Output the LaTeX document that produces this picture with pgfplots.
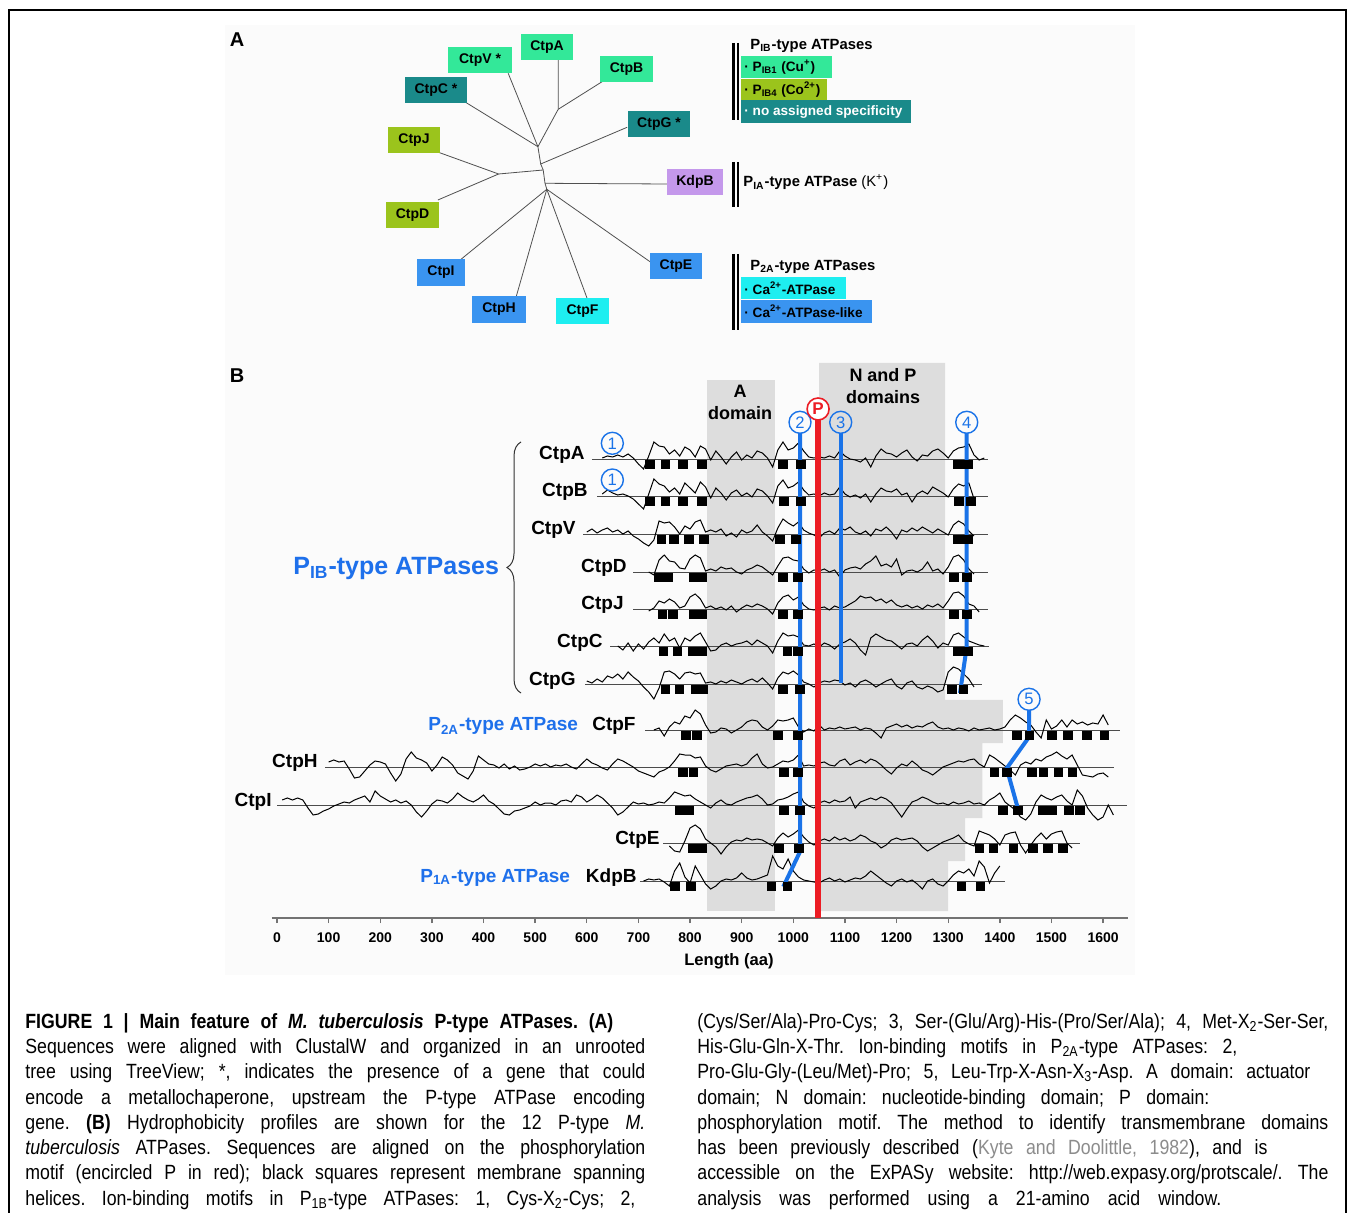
\documentclass[border=0pt]{standalone}
\usepackage{pgfplots}
\pgfplotsset{compat=1.18}
\usepackage{fontspec}
\setmainfont{Liberation Sans}
\newfontfamily\capfont[FakeStretch=0.86]{Liberation Sans}
\usetikzlibrary{decorations.pathreplacing}
\definecolor{mint}{RGB}{51,232,153}
\definecolor{teal2}{RGB}{26,138,138}
\definecolor{olive2}{RGB}{155,196,28}
\definecolor{lav}{RGB}{196,152,235}
\definecolor{blu}{RGB}{58,148,240}
\definecolor{cyn}{RGB}{30,238,240}
\definecolor{tblue}{RGB}{30,112,235}
\definecolor{lblue}{RGB}{26,115,232}
\definecolor{pred}{RGB}{236,28,36}
\definecolor{boxgray}{RGB}{221,221,221}
\definecolor{treegray}{RGB}{80,80,80}
\newcommand{\fsz}[1]{\fontsize{#1}{#1}\selectfont}
\newcommand{\tbox}[6]{\fill[#5] (#1,#2) rectangle (#3,#4);
  \node[font=\bfseries\fsz{7}, inner sep=0] at ({(#1+#3)/2},{(#2+#4)/2}) {#6};}
\newcommand{\capl}[4]{\node[anchor=base west, inner sep=0, font=\capfont\fsz{10.3}\frenchspacing] at (#1,#2) {\makebox[#3][s]{#4}};}
\pgfplotsset{prof/.style={black, line width=0.5pt}, base/.style={black!70, line width=0.45pt},
  tm/.style={only marks, mark=square*, mark size=2.1pt, black}}
\begin{document}
\frenchspacing
\begin{tikzpicture}
\begin{scope}[x=0.5pt,y=-0.5pt]
\useasboundingbox (0,0) rectangle (1355,1213);
\fill[white] (0,0) rectangle (1355,1213);
\fill[black!1.5] (225,25) rectangle (1135,975);
\draw[black, line width=0.6pt] (9,1213) -- (9,10) -- (1346,10) -- (1346,1213);
% panel A
\node[font=\bfseries\fsz{10}] at (237,40) {A};
\begin{scope}[treegray, line width=0.4pt]
\draw (537.9,146.7) -- (508.2,73.3);
\draw (537.9,146.7) -- (558.2,109.3) -- (558.2,60);
\draw (558.2,109.3) -- (602.1,81.7);
\draw (537.9,146.7) -- (464.6,101.7);
\draw (537.9,146.7) -- (540.7,164) -- (627.1,127.3);
\draw (540.7,164) -- (543.2,170) -- (545,183.3);
\draw (543.2,170) -- (498.6,174);
\draw (498.6,174) -- (439.6,152.7);
\draw (498.6,174) -- (437.9,200);
\draw (545,183.3) -- (667,184);
\draw (545,183.3) -- (546.8,189.3);
\draw (546.8,189.3) -- (461,259.3);
\draw (546.8,189.3) -- (516.4,296);
\draw (546.8,189.3) -- (587.1,298.3);
\draw (546.8,189.3) -- (650.4,262);
\end{scope}
\tbox{448}{47}{512}{73}{mint}{CtpV *}
\tbox{521}{34}{573}{60}{mint}{CtpA}
\tbox{600}{56}{653}{82}{mint}{CtpB}
\tbox{405}{77}{467}{103}{teal2}{CtpC *}
\tbox{628}{111}{690}{137}{teal2}{CtpG *}
\tbox{388}{127}{440}{153}{olive2}{CtpJ}
\tbox{667}{169}{723}{195}{lav}{KdpB}
\tbox{386}{202}{439}{228}{olive2}{CtpD}
\tbox{417}{259}{465}{286}{blu}{CtpI}
\tbox{650}{253}{702}{279}{blu}{CtpE}
\tbox{472}{296}{526}{323}{blu}{CtpH}
\tbox{556}{298}{609}{324}{cyn}{CtpF}
% legend bars
\foreach \a/\b in {43/120,162/207,254/330}{
  \draw[black, line width=1.2pt] (733.5,\a) -- (733.5,\b);
  \draw[black, line width=1.2pt] (737.8,\a) -- (737.8,\b);}
\node[anchor=west, inner sep=0, font=\bfseries\fsz{7.4}] at (750,46) {P\textsubscript{IB}-type ATPases};
\fill[mint] (741,56) rectangle (832,78);
\fill[olive2] (741,79) rectangle (827,100);
\fill[teal2] (741,100) rectangle (911,123);
\node[anchor=west, inner sep=0, font=\bfseries\fsz{6.8}] at (744,67.5) {· P\textsubscript{IB1} (Cu\textsuperscript{+})};
\node[anchor=west, inner sep=0, font=\bfseries\fsz{6.8}] at (744,90) {· P\textsubscript{IB4} (Co\textsuperscript{2+})};
\node[anchor=west, inner sep=0, font=\bfseries\fsz{6.8}, text=white] at (744,112) {· no assigned specificity};
\node[anchor=west, inner sep=0, font=\fsz{7.4}] at (743,182.5) {\textbf{P\textsubscript{IA}-type ATPase} (K\textsuperscript{+})};
\node[anchor=west, inner sep=0, font=\bfseries\fsz{7.4}] at (750,267) {P\textsubscript{2A}-type ATPases};
\fill[cyn] (741,277) rectangle (846,299);
\fill[blu] (741,300) rectangle (872,323);
\node[anchor=west, inner sep=0, font=\bfseries\fsz{6.8}] at (744,288) {· Ca\textsuperscript{2+}-ATPase};
\node[anchor=west, inner sep=0, font=\bfseries\fsz{6.8}] at (744,311.5) {· Ca\textsuperscript{2+}-ATPase-like};
\end{scope}

\begin{axis}[
  at={(135.92pt,-459pt)}, anchor=south west,
  scale only axis, x=0.25815pt, y=0.5pt,
  xmin=-10, xmax=1649, ymin=-918, ymax=-355,
  axis x line*=bottom, axis y line=none,
  xtick={0,100,...,1600}, ytick=\empty,
  tick align=outside, major tick length=2.5pt,
  axis line style={black!55, line width=0.9pt},
  every tick/.style={black!55, line width=0.7pt},
  xticklabel style={font=\bfseries\fsz{7}, text=black, yshift=-1.5pt},
  /pgf/number format/assume math mode=true,
  /pgf/number format/1000 sep={},
  clip=false,
]
% domains
\addplot[fill=boxgray, draw=none] coordinates {(832,-380) (964,-380) (964,-911) (832,-911)} -- cycle;
\addplot[fill=boxgray, draw=none] coordinates {(1050,-363) (1294,-363) (1294,-700) (1406,-700) (1406,-743) (1366,-743) (1366,-818) (1333,-818) (1333,-861) (1300,-861) (1300,-911) (1050,-911)} -- cycle;
% baselines
\addplot[base] coordinates {(610,-459) (1377,-459)};
\addplot[base] coordinates {(620,-496) (1377,-496)};
\addplot[base] coordinates {(593,-534) (1377,-534)};
\addplot[base] coordinates {(690,-572) (1377,-572)};
\addplot[base] coordinates {(690,-609) (1377,-609)};
\addplot[base] coordinates {(645,-646) (1379,-646)};
\addplot[base] coordinates {(597,-684) (1366,-684)};
\addplot[base] coordinates {(713,-730) (1633,-730)};
\addplot[base] coordinates {(93,-767) (1621,-767)};
\addplot[base] coordinates {(0,-805) (1646,-805)};
\addplot[base] coordinates {(748,-843) (1555,-843)};
\addplot[base] coordinates {(703,-881) (1410,-881)};
% profiles
\addplot[prof] table[row sep=\\, x expr=630+10*\coordindex, y expr=\thisrow{h}-459] {h\\1\\3\\2\\4\\2\\5\\1\\-5\\-10\\3\\17\\13\\12\\5\\9\\3\\12\\9\\2\\13\\10\\-1\\8\\2\\-5\\2\\7\\-1\\4\\1\\8\\6\\1\\-8\\9\\17\\9\\11\\16\\8\\2\\1\\2\\1\\3\\1\\8\\3\\0\\-1\\-3\\1\\-8\\3\\10\\6\\5\\2\\6\\9\\2\\-2\\4\\3\\8\\10\\6\\1\\8\\11\\12\\15\\4\\-1\\1\\};
\addplot[prof] table[row sep=\\, x expr=630+10*\coordindex, y expr=\thisrow{h}-496] {h\\2\\6\\3\\1\\2\\0\\-3\\-8\\-13\\2\\17\\12\\10\\4\\8\\2\\13\\8\\3\\14\\9\\-2\\8\\3\\-4\\3\\6\\0\\3\\-1\\7\\5\\0\\-7\\10\\16\\8\\10\\14\\6\\1\\2\\0\\3\\1\\2\\9\\2\\-1\\1\\-2\\2\\-6\\2\\8\\5\\4\\7\\1\\3\\-6\\2\\5\\2\\9\\6\\3\\-1\\7\\12\\10\\13\\-3\\};
\addplot[prof] table[row sep=\\, x expr=600+10*\coordindex, y expr=\thisrow{h}-534] {h\\2\\5\\1\\4\\6\\2\\4\\0\\3\\-2\\-5\\-9\\-12\\-6\\13\\11\\12\\7\\0\\8\\5\\12\\14\\2\\4\\2\\5\\-2\\1\\-3\\4\\1\\3\\9\\2\\-2\\-7\\6\\15\\11\\8\\12\\4\\1\\-1\\-4\\1\\3\\0\\6\\4\\7\\2\\0\\3\\-2\\5\\3\\7\\2\\-5\\4\\2\\6\\3\\7\\4\\1\\5\\2\\-1\\9\\13\\10\\3\\-2\\};
\addplot[prof] table[row sep=\\, x expr=720+10*\coordindex, y expr=\thisrow{h}-572] {h\\0\\-3\\12\\17\\11\\10\\4\\3\\13\\17\\14\\1\\3\\1\\5\\3\\4\\0\\-2\\2\\4\\7\\5\\1\\-3\\6\\14\\15\\12\\11\\3\\-1\\2\\1\\3\\0\\2\\-5\\2\\4\\5\\3\\8\\11\\16\\6\\8\\5\\13\\-3\\1\\2\\0\\3\\10\\1\\3\\-2\\5\\15\\17\\12\\3\\-2\\};
\addplot[prof] table[row sep=\\, x expr=720+10*\coordindex, y expr=\thisrow{h}-609] {h\\-2\\1\\8\\6\\10\\7\\1\\3\\12\\15\\10\\1\\3\\0\\2\\-1\\3\\-3\\1\\4\\2\\5\\3\\0\\-5\\6\\12\\14\\9\\12\\4\\0\\-1\\1\\2\\-1\\3\\1\\2\\5\\8\\13\\11\\12\\8\\10\\6\\9\\4\\2\\4\\1\\3\\0\\4\\2\\5\\1\\8\\16\\17\\13\\5\\3\\-3\\};
\addplot[prof] table[row sep=\\, x expr=660+10*\coordindex, y expr=\thisrow{h}-646] {h\\0\\-4\\3\\-5\\2\\-3\\4\\8\\3\\12\\5\\8\\-2\\8\\5\\10\\13\\4\\-5\\-4\\1\\3\\0\\2\\3\\5\\1\\6\\3\\0\\-7\\5\\13\\10\\11\\9\\1\\0\\2\\-1\\3\\1\\-3\\2\\4\\7\\3\\-4\\-9\\8\\12\\9\\6\\5\\1\\-3\\2\\3\\0\\6\\10\\5\\-2\\3\\1\\11\\13\\9\\5\\3\\1\\0\\};
\addplot[prof] table[row sep=\\, x expr=600+10*\coordindex, y expr=\thisrow{h}-684] {h\\3\\1\\5\\2\\8\\6\\10\\5\\12\\7\\3\\-3\\-8\\-15\\-4\\12\\13\\10\\5\\11\\12\\10\\11\\1\\2\\0\\3\\1\\4\\2\\0\\3\\5\\2\\6\\1\\-5\\6\\12\\10\\13\\9\\2\\0\\-3\\1\\3\\2\\4\\3\\-1\\1\\-3\\2\\4\\1\\-3\\0\\3\\5\\-2\\-5\\1\\3\\-3\\-5\\-2\\-4\\-8\\-6\\12\\17\\15\\10\\5\\-3\\};
\addplot[prof] table[row sep=\\, x expr=730+10*\coordindex, y expr=\thisrow{h}-730] {h\\0\\2\\-6\\3\\8\\6\\14\\12\\20\\16\\5\\-3\\-2\\2\\1\\-3\\0\\3\\8\\10\\9\\3\\0\\4\\10\\9\\10\\12\\3\\-2\\1\\-1\\5\\0\\2\\1\\3\\1\\2\\3\\0\\2\\1\\-3\\-8\\2\\4\\6\\3\\5\\2\\4\\3\\6\\8\\3\\1\\2\\0\\2\\1\\-1\\2\\0\\1\\2\\0\\1\\3\\10\\15\\12\\8\\5\\-2\\-8\\10\\1\\4\\10\\3\\10\\6\\8\\5\\7\\6\\15\\5\\};
\addplot[prof] table[row sep=\\, x expr=100+10*\coordindex, y expr=\thisrow{h}-767] {h\\5\\7\\5\\6\\-2\\-11\\-10\\-4\\2\\6\\5\\3\\-6\\-14\\-7\\8\\15\\9\\7\\4\\-4\\2\\10\\7\\2\\-6\\-9\\-12\\-4\\11\\7\\3\\2\\-1\\3\\-2\\1\\-3\\-2\\0\\3\\1\\3\\0\\2\\1\\3\\0\\-2\\3\\8\\4\\2\\-1\\-3\\3\\8\\6\\3\\0\\-4\\-6\\-8\\-10\\-5\\-3\\0\\6\\13\\12\\12\\9\\10\\1\\-3\\-5\\-2\\1\\2\\3\\1\\3\\9\\13\\3\\-1\\0\\3\\6\\5\\7\\12\\1\\2\\1\\4\\5\\2\\1\\6\\8\\2\\5\\7\\4\\8\\6\\2\\-3\\-7\\-1\\3\\1\\6\\2\\-3\\-5\\-8\\-4\\0\\2\\4\\6\\5\\7\\8\\3\\0\\12\\9\\5\\1\\-3\\-8\\2\\5\\3\\8\\6\\10\\12\\15\\11\\8\\12\\2\\-8\\-9\\-10\\-7\\-6\\-10\\};
\addplot[prof] table[row sep=\\, x expr=10+10*\coordindex, y expr=\thisrow{h}-805] {h\\5\\7\\5\\7\\5\\-3\\-10\\-9\\-6\\-4\\-1\\1\\3\\2\\5\\7\\9\\3\\14\\9\\6\\3\\5\\2\\4\\0\\-7\\-12\\-6\\1\\5\\4\\2\\6\\12\\8\\5\\3\\6\\10\\4\\1\\-4\\-9\\-10\\-6\\-5\\-3\\-1\\3\\0\\2\\2\\0\\4\\5\\3\\10\\8\\3\\6\\10\\7\\2\\-3\\-10\\-7\\-2\\3\\1\\2\\0\\1\\3\\2\\7\\13\\11\\9\\10\\6\\3\\0\\-3\\2\\5\\1\\0\\3\\5\\7\\8\\10\\6\\0\\1\\5\\6\\8\\11\\13\\3\\-1\\-3\\2\\4\\2\\5\\3\\4\\8\\-3\\3\\5\\7\\5\\8\\6\\2\\-5\\-12\\-4\\3\\5\\8\\6\\3\\1\\2\\0\\3\\1\\2\\4\\1\\2\\0\\5\\8\\12\\3\\-1\\-5\\-12\\-15\\-9\\3\\10\\7\\5\\8\\10\\4\\0\\15\\9\\-3\\-10\\-15\\-12\\0\\-10\\};
\addplot[prof] table[row sep=\\, x expr=760+10*\coordindex, y expr=\thisrow{h}-843] {h\\-3\\-8\\-9\\2\\15\\18\\14\\4\\0\\-4\\-11\\-4\\1\\3\\2\\5\\3\\4\\3\\0\\-3\\5\\10\\6\\9\\13\\6\\1\\-2\\2\\4\\2\\6\\3\\5\\2\\4\\8\\6\\2\\0\\-5\\-2\\3\\5\\3\\4\\5\\2\\-4\\-8\\-5\\-2\\1\\3\\5\\8\\2\\-1\\-3\\12\\10\\8\\4\\-2\\8\\10\\11\\-2\\-10\\-2\\5\\10\\4\\9\\11\\12\\0\\-5\\};
\addplot[prof] table[row sep=\\, x expr=710+10*\coordindex, y expr=\thisrow{h}-881] {h\\0\\2\\1\\2\\-1\\-5\\10\\18\\4\\-2\\15\\6\\-3\\-8\\-5\\0\\2\\1\\3\\8\\3\\1\\2\\4\\6\\25\\15\\12\\22\\10\\4\\1\\0\\-1\\-2\\1\\3\\0\\2\\-1\\1\\3\\2\\5\\10\\6\\2\\-2\\-5\\0\\2\\-1\\1\\-3\\-8\\0\\2\\-3\\-5\\0\\6\\10\\8\\12\\5\\20\\14\\-2\\8\\15\\};
% transmembrane helices
\addplot[tm] coordinates {(722,-464.5) (752,-464.5) (786,-464.5) (823,-464.5) (980,-464.5) (1015,-464.5) (1319,-464.5) (1338,-464.5)};
\addplot[tm] coordinates {(722,-501.5) (752,-501.5) (786,-501.5) (823,-501.5) (982,-501.5) (1015,-501.5) (1321,-501.5) (1344,-501.5)};
\addplot[tm] coordinates {(744,-539.5) (769,-539.5) (798,-539.5) (827,-539.5) (974,-539.5) (1005,-539.5) (1319,-539.5) (1338,-539.5)};
\addplot[tm] coordinates {(740,-577.5) (757,-577.5) (806,-577.5) (823,-577.5) (980,-577.5) (1009,-577.5) (1311,-577.5) (1336,-577.5)};
\addplot[tm] coordinates {(746,-614.5) (767,-614.5) (806,-614.5) (823,-614.5) (980,-614.5) (1009,-614.5) (1311,-614.5) (1336,-614.5)};
\addplot[tm] coordinates {(748,-651.5) (775,-651.5) (804,-651.5) (823,-651.5) (988,-651.5) (1009,-651.5) (1319,-651.5) (1338,-651.5)};
\addplot[tm] coordinates {(752,-689.5) (779,-689.5) (810,-689.5) (825,-689.5) (980,-689.5) (1013,-689.5) (1307,-689.5) (1329,-689.5)};
\addplot[tm] coordinates {(792,-735.5) (813,-735.5) (970,-735.5) (1009,-735.5) (1433,-735.5) (1457,-735.5) (1501,-735.5) (1532,-735.5) (1569,-735.5) (1602,-735.5)};
\addplot[tm] coordinates {(786,-772.5) (806,-772.5) (982,-772.5) (1009,-772.5) (1389,-772.5) (1414,-772.5) (1462,-772.5) (1484,-772.5) (1513,-772.5) (1540,-772.5)};
\addplot[tm] coordinates {(779,-810.5) (798,-810.5) (982,-810.5) (1013,-810.5) (1406,-810.5) (1435,-810.5) (1482,-810.5) (1501,-810.5) (1534,-810.5) (1555,-810.5)};
\addplot[tm] coordinates {(804,-848.5) (823,-848.5) (972,-848.5) (1011,-848.5) (1360,-848.5) (1387,-848.5) (1426,-848.5) (1464,-848.5) (1493,-848.5) (1522,-848.5)};
\addplot[tm] coordinates {(771,-886.5) (802,-886.5) (957,-886.5) (988,-886.5) (1325,-886.5) (1362,-886.5)};
% motif lines
\addplot[lblue, line width=2pt] coordinates {(1013,-433) (1013,-851.7) (980.6,-886.7)};
\addplot[lblue, line width=2pt] coordinates {(1091.8,-433) (1091.8,-683)};
\addplot[lblue, line width=2pt] coordinates {(1335.9,-433) (1335.9,-646.7) (1322.9,-693)};
\addplot[lblue, line width=2pt] coordinates {(1456.6,-710) (1456.6,-737) (1413.3,-768.3) (1435.8,-810)};
\addplot[pred, line width=2.6pt] coordinates {(1048,-418) (1048,-918)};
% circled labels
\foreach \xx/\yy/\tt in {649.5/-443.3/1, 649.5/-480/1, 1013/-422.3/2, 1091.8/-422.3/3, 1335.9/-422.3/4, 1456.6/-699.3/5}{
  \edef\tmp{\noexpand\node[circle, draw=lblue, line width=0.7pt, minimum size=11pt, inner sep=0pt, text=lblue, font=\noexpand\fsz{8.3}] at (axis cs:\xx,\yy) {\tt};}\tmp
}
\node[circle, draw=pred, line width=0.8pt, fill=white, minimum size=11pt, inner sep=0pt, text=pred, font=\bfseries\fsz{8.5}] at (axis cs:1048,-409) {P};
\end{axis}

\begin{scope}[x=0.5pt,y=-0.5pt]
\node[font=\bfseries\fsz{10}] at (237,376) {B};
\node[font=\bfseries\fsz{9}, inner sep=0] at (740,391) {A};
\node[font=\bfseries\fsz{9}, inner sep=0] at (740,413) {domain};
\node[font=\bfseries\fsz{9}, inner sep=0] at (883,375) {N and P};
\node[font=\bfseries\fsz{9}, inner sep=0] at (883,397) {domains};
\foreach \xx/\yy/\tt in {585/460/CtpA, 588/497/CtpB, 576/535/CtpV, 627/573/CtpD, 624/610/CtpJ, 603/647/CtpC, 576/685/CtpG, 636/731/CtpF, 318/768/CtpH, 272/806/CtpI, 660/844/CtpE, 637/882/KdpB}{
  \node[anchor=base east, inner sep=0, font=\bfseries\fsz{9.5}] at (\xx,\yy) {\tt};}
\node[anchor=base west, inner sep=0, font=\bfseries\fsz{12.5}, text=tblue] at (293,575) {P\textsubscript{IB}-type ATPases};
\node[anchor=base west, inner sep=0, font=\bfseries\fsz{9.5}, text=tblue] at (428,731) {P\textsubscript{2A}-type ATPase};
\node[anchor=base west, inner sep=0, font=\bfseries\fsz{9.5}, text=tblue] at (420,882) {P\textsubscript{1A}-type ATPase};
\draw[black!80, line width=0.5pt, decorate, decoration={brace, amplitude=7pt}] (521,693) -- (521,442);
\node[font=\bfseries\fsz{8.3}] at (729,961) {Length (aa)};
% caption
\capl{25}{1028}{294pt}{\bfseries FIGURE 1 | Main feature of \textit{M. tuberculosis} P-type ATPases. (A)}
\capl{25}{1053}{310pt}{Sequences were aligned with ClustalW and organized in an unrooted}
\capl{25}{1078}{310pt}{tree using TreeView; *, indicates the presence of a gene that could}
\capl{25}{1104}{310pt}{encode a metallochaperone, upstream the P-type ATPase encoding}
\capl{25}{1129}{310pt}{gene. \textbf{(B)} Hydrophobicity profiles are shown for the 12 P-type \textit{M.}}
\capl{25}{1154}{310pt}{\textit{tuberculosis} ATPases. Sequences are aligned on the phosphorylation}
\capl{25}{1179}{310pt}{motif (encircled P in red); black squares represent membrane spanning}
\capl{25}{1205}{305pt}{helices. Ion-binding motifs in P\textsubscript{1B}-type ATPases: 1, Cys-X\textsubscript{2}-Cys; 2,}
\capl{697}{1028}{315.5pt}{(Cys/Ser/Ala)-Pro-Cys; 3, Ser-(Glu/Arg)-His-(Pro/Ser/Ala); 4, Met-X\textsubscript{2}-Ser-Ser,}
\capl{697}{1053}{270pt}{His-Glu-Gln-X-Thr. Ion-binding motifs in P\textsubscript{2A}-type ATPases: 2,}
\capl{697}{1078}{306.5pt}{Pro-Glu-Gly-(Leu/Met)-Pro; 5, Leu-Trp-X-Asn-X\textsubscript{3}-Asp. A domain: actuator}
\capl{697}{1104}{256pt}{domain; N domain: nucleotide-binding domain; P domain:}
\capl{697}{1129}{315.5pt}{phosphorylation motif. The method to identify transmembrane domains}
\capl{697}{1154}{285pt}{has been previously described ({\color{black!45}Kyte and Doolittle, 1982}), and is}
\capl{697}{1179}{315.5pt}{accessible on the ExPASy website: http://web.expasy.org/protscale/. The}
\capl{697}{1205}{262pt}{analysis was performed using a 21-amino acid window.}
\end{scope}
\end{tikzpicture}
\end{document}
